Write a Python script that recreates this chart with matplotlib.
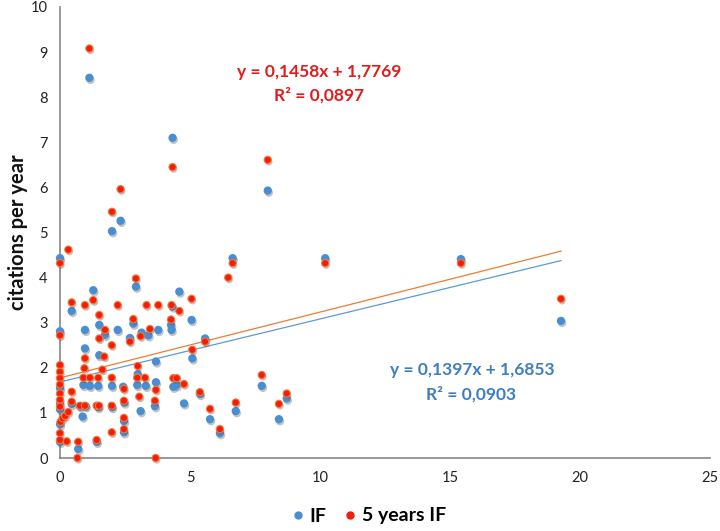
import matplotlib
matplotlib.use("Agg")
import matplotlib.pyplot as plt
import matplotlib.patheffects as pe
from matplotlib.lines import Line2D
import numpy as np

plt.rcParams['font.family'] = ['Lato', 'DejaVu Sans']

# ---- data ----
if_x = [1.13, 4.33, 7.99, 2.33, 2.00, 0.00, 6.64, 10.20, 15.42, 2.92, 1.28, 4.59, 0.45,
        5.06, 1.51, 2.82, 4.27, 0.00, 0.96, 2.22, 3.78, 4.29, 1.73, 3.14, 3.40, 2.69,
        5.58, 0.96, 1.51, 5.09, 3.69, 2.99, 0.90, 1.15, 1.47, 2.00, 2.43, 2.97, 3.30,
        3.69, 4.36, 4.49, 4.77, 3.10, 3.65, 0.87, 5.77, 6.76, 6.15, 2.46, 2.46, 0.70,
        1.41, 7.76, 8.72, 8.42, 19.27, 0.00, 0.00, 0.00, 0.00, 0.00, 0.77, 0.99, 1.47,
        2.00, 0.45, 5.38, 4.32, 2.47]
if_y = [8.43, 7.10, 5.93, 5.26, 5.03, 4.43, 4.43, 4.43, 4.41, 3.80, 3.72, 3.69, 3.26,
        3.06, 2.95, 2.98, 2.95, 2.81, 2.84, 2.84, 2.84, 2.84, 2.73, 2.78, 2.72, 2.66,
        2.65, 2.43, 2.28, 2.21, 2.14, 1.86, 1.62, 1.60, 1.60, 1.60, 1.58, 1.62, 1.60,
        1.68, 1.58, 1.62, 1.21, 1.04, 1.15, 0.92, 0.86, 1.04, 0.55, 0.57, 0.82, 0.20,
        0.36, 1.60, 1.32, 0.86, 3.04, 1.55, 1.20, 1.08, 0.36, 0.75, 1.15, 1.15, 1.13,
        1.13, 1.20, 1.42, 3.36, 1.23]

if5_x = [1.13, 4.33, 7.99, 2.33, 2.00, 0.32, 0.00, 6.64, 10.20, 15.42, 6.47, 2.92, 5.06,
         1.28, 0.45, 0.96, 2.22, 3.33, 3.78, 4.29, 4.59, 1.51, 2.82, 4.27, 1.73, 3.46,
         0.00, 3.10, 1.51, 2.69, 5.58, 1.99, 5.09, 0.96, 1.70, 2.99, 0.94, 1.63, 0.00,
         0.00, 0.00, 0.00, 0.00, 0.00, 0.00, 0.90, 1.15, 1.47, 1.99, 2.97, 3.27, 4.36,
         4.49, 4.77, 3.69, 2.46, 0.45, 0.45, 3.05, 2.46, 3.65, 0.77, 0.96, 1.41, 1.50,
         1.99, 5.38, 5.77, 6.76, 6.15, 7.76, 8.72, 8.42, 2.46, 2.46, 1.99, 1.41, 0.70,
         0.26, 0.00, 0.00, 0.67, 3.68, 0.02, 0.10, 0.20, 0.32, 19.27]
if5_y = [9.08, 6.45, 6.61, 5.96, 5.46, 4.62, 4.32, 4.32, 4.32, 4.32, 4.00, 3.98, 3.53,
         3.50, 3.45, 3.39, 3.39, 3.39, 3.39, 3.39, 3.26, 3.17, 3.08, 3.07, 2.84, 2.86,
         2.72, 2.70, 2.65, 2.58, 2.58, 2.50, 2.40, 2.21, 2.25, 2.04, 1.99, 1.96, 2.06,
         1.91, 1.77, 1.63, 1.43, 1.29, 1.14, 1.78, 1.78, 1.78, 1.78, 1.78, 1.78, 1.77,
         1.77, 1.64, 1.51, 1.53, 1.47, 1.25, 1.36, 1.27, 1.27, 1.16, 1.16, 1.16, 1.16,
         1.16, 1.46, 1.09, 1.23, 0.64, 1.84, 1.43, 1.20, 0.89, 0.64, 0.57, 0.40, 0.36,
         0.37, 0.55, 0.40, 0.00, 0.00, 0.80, 0.88, 0.93, 1.02, 3.53]

# trendline coefficients (slope, intercept) and R^2 as printed in chart
if_fit = (0.1397, 1.6853, 0.0903)
if5_fit = (0.1458, 1.7769, 0.0897)

x_ticks = [0, 5, 10, 15, 20, 25]
y_ticks = list(range(0, 11))

# ---- styling ----
blue = '#4A8ED2'
red = '#F21D0A'
red_edge = '#F47A3C'
blue_line = '#5B9BD5'
red_line = '#ED7D31'
blue_txt = '#3E7EC0'
red_txt = '#E21B1B'

fig = plt.figure(figsize=(7.2, 5.31), dpi=100)
ax = fig.add_axes([60/720, 73/531, 650/720, 451/531])

shadow = [pe.SimplePatchShadow(offset=(0.8, -1.5), shadow_rgbFace='#555555', alpha=0.35), pe.Normal()]

# trendlines
xmax = max(if_x)
xl = np.array([0, xmax])
ax.plot(xl, if_fit[0]*xl + if_fit[1], color=blue_line, lw=0.9, zorder=2)
ax.plot(xl, if5_fit[0]*xl + if5_fit[1], color=red_line, lw=0.9, zorder=2)

sb = ax.scatter(if_x, if_y, s=36, color=blue, edgecolors='none', zorder=3, clip_on=False, label='IF')
sb.set_path_effects(shadow)
sr = ax.scatter(if5_x, if5_y, s=27, color=red, edgecolors=red_edge, linewidths=0.8, zorder=4,
                clip_on=False, label='5 years IF')
sr.set_path_effects(shadow)

ax.set_xlim(0, 25)
ax.set_ylim(0, 10)
ax.set_xticks(x_ticks)
ax.set_yticks(y_ticks)
ax.tick_params(axis='both', length=0, labelsize=10.5, colors='#222222')
ax.tick_params(axis='x', pad=9)
ax.tick_params(axis='y', pad=9)
for s in ['top', 'right']:
    ax.spines[s].set_visible(False)
for s in ['left', 'bottom']:
    ax.spines[s].set_color('#868686')
    ax.spines[s].set_linewidth(1.2)

ax.set_ylabel('citations per year', fontsize=14.5, fontweight='bold', color='#111111', labelpad=2)

ax.text(9.95, 8.56, f"y = {if5_fit[0]:.4f}x + {if5_fit[1]:.4f}".replace('.', ','),
        color=red_txt, fontsize=12.5, fontweight='bold', ha='center', va='center')
ax.text(9.95, 8.05, f"R² = {if5_fit[2]:.4f}".replace('.', ','),
        color=red_txt, fontsize=12.5, fontweight='bold', ha='center', va='center')
ax.text(15.85, 1.96, f"y = {if_fit[0]:.4f}x + {if_fit[1]:.4f}".replace('.', ','),
        color=blue_txt, fontsize=12.5, fontweight='bold', ha='center', va='center')
ax.text(15.8, 1.42, f"R² = {if_fit[2]:.4f}".replace('.', ','),
        color=blue_txt, fontsize=12.5, fontweight='bold', ha='center', va='center')

handles = [Line2D([], [], marker='o', ls='none', color=blue, markersize=5),
           Line2D([], [], marker='o', ls='none', color=red, markersize=5)]
fig.legend(handles, ['IF', '5 years IF'], loc='center', bbox_to_anchor=(367/720, 1-516/531),
           ncol=2, frameon=False, handletextpad=0.1, columnspacing=0.7, handlelength=1.0,
           prop={'size': 14, 'weight': 'bold'})

fig.savefig('out.png', dpi=100, facecolor='white')
